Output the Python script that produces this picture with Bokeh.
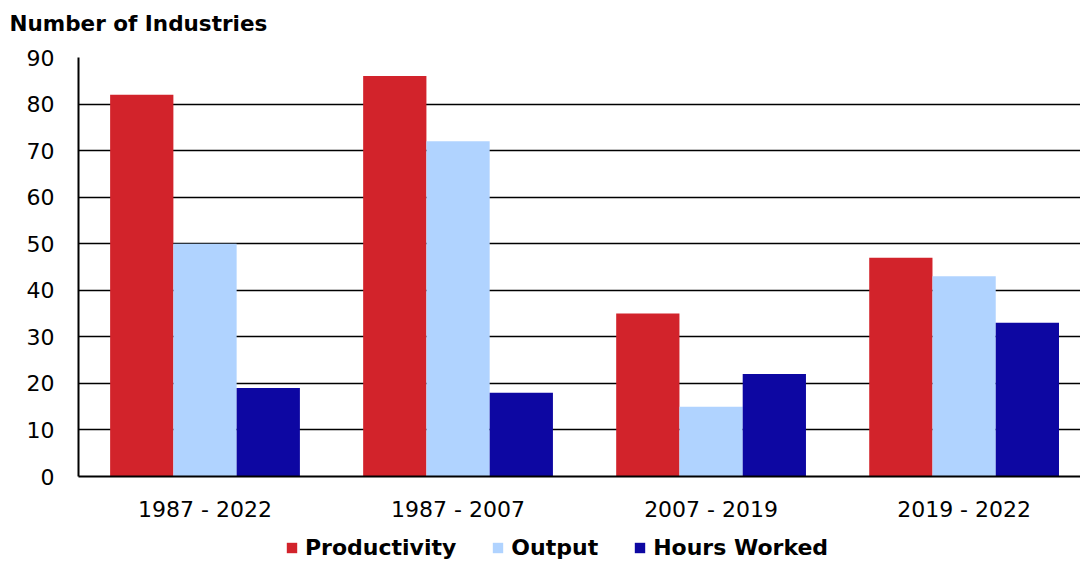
from bokeh.plotting import figure
from bokeh.layouts import column
from bokeh.models import Range1d, FixedTicker, Legend, LegendItem, Title
from bokeh.embed import file_html
from bokeh.resources import INLINE

categories = ["1987 - 2022", "1987 - 2007", "2007 - 2019", "2019 - 2022"]
series_names = ["Productivity", "Output", "Hours Worked"]
productivity = [82, 86, 35, 47]
output = [50, 72, 15, 43]
hours_worked = [19, 18, 22, 33]
y_ticks = [0, 10, 20, 30, 40, 50, 60, 70, 80, 90]

colors = ["#D2232B", "#B0D3FF", "#0D07A2"]
series = [productivity, output, hours_worked]
offsets = [-0.25, 0.0, 0.25]
bar_w = 0.25
FONT = "DejaVu Sans"

p = figure(width=1080, height=525, output_backend="svg", toolbar_location=None,
           x_range=Range1d(0, 3.96), y_range=Range1d(0, 90),
           min_border_left=78, min_border_right=0, min_border_top=57,
           min_border_bottom=49)
p.outline_line_color = None
p.background_fill_color = "white"

centers = [i + 0.5 for i in range(len(categories))]
for name, vals, col, off in zip(series_names, series, colors, offsets):
    xs = [c + off for c in centers]
    p.vbar(x=xs, top=vals, width=bar_w, bottom=0, fill_color=col, line_color=None)

# spacer between frame and title, then the title itself
spacer = Title(text=" ", text_font=FONT, text_font_size="10px", standoff=3)
p.add_layout(spacer, "above")
t = Title(text="Number of Industries", text_font=FONT, text_font_size="21.5px",
          text_font_style="bold", text_color="black", align="left", offset=-69,
          standoff=12)
p.add_layout(t, "above")

# y axis
p.yaxis.ticker = FixedTicker(ticks=y_ticks)
p.yaxis.major_tick_out = 0
p.yaxis.major_tick_in = 0
p.yaxis.minor_tick_line_color = None
p.yaxis.axis_line_color = "black"
p.yaxis.axis_line_width = 2
p.yaxis.major_label_text_font = FONT
p.yaxis.major_label_text_font_size = "22px"
p.yaxis.major_label_text_color = "black"
p.yaxis.major_label_standoff = 24

# x axis
p.xaxis.ticker = FixedTicker(ticks=centers)
p.xaxis.major_label_overrides = {c: lab for c, lab in zip(centers, categories)}
p.xaxis.major_tick_out = 0
p.xaxis.major_tick_in = 0
p.xaxis.minor_tick_line_color = None
p.xaxis.axis_line_color = "black"
p.xaxis.axis_line_width = 2
p.xaxis.major_label_text_font = FONT
p.xaxis.major_label_text_font_size = "22px"
p.xaxis.major_label_text_color = "black"
p.xaxis.major_label_standoff = 20

p.xgrid.grid_line_color = None
p.ygrid.grid_line_color = "black"
p.ygrid.grid_line_width = 1.5

# legend in a separate strip below the chart (proxy renderers lie outside its visible range)
lg = figure(width=1080, height=36, output_backend="svg", toolbar_location=None,
            x_axis_type=None, y_axis_type=None, x_range=Range1d(0, 1), y_range=Range1d(0, 1),
            min_border=0)
lg.outline_line_color = None
lg.xgrid.visible = False
lg.ygrid.visible = False
items = []
for name, col in zip(series_names, colors):
    r = lg.vbar(x=[-5], top=[0], width=bar_w, bottom=0, fill_color=col, line_color=None)
    items.append(LegendItem(label=name, renderers=[r]))
legend = Legend(items=items, orientation="horizontal", location=(207, 1),
                label_text_font=FONT, label_text_font_size="22px",
                label_text_font_style="bold", label_text_color="black",
                glyph_width=13, glyph_height=13,
                label_standoff=7, spacing=35, border_line_color=None,
                background_fill_alpha=0, padding=2, margin=0)
lg.add_layout(legend, "center")

layout = column(p, lg, spacing=0)
open("out.html", "w").write(file_html(layout, INLINE))
